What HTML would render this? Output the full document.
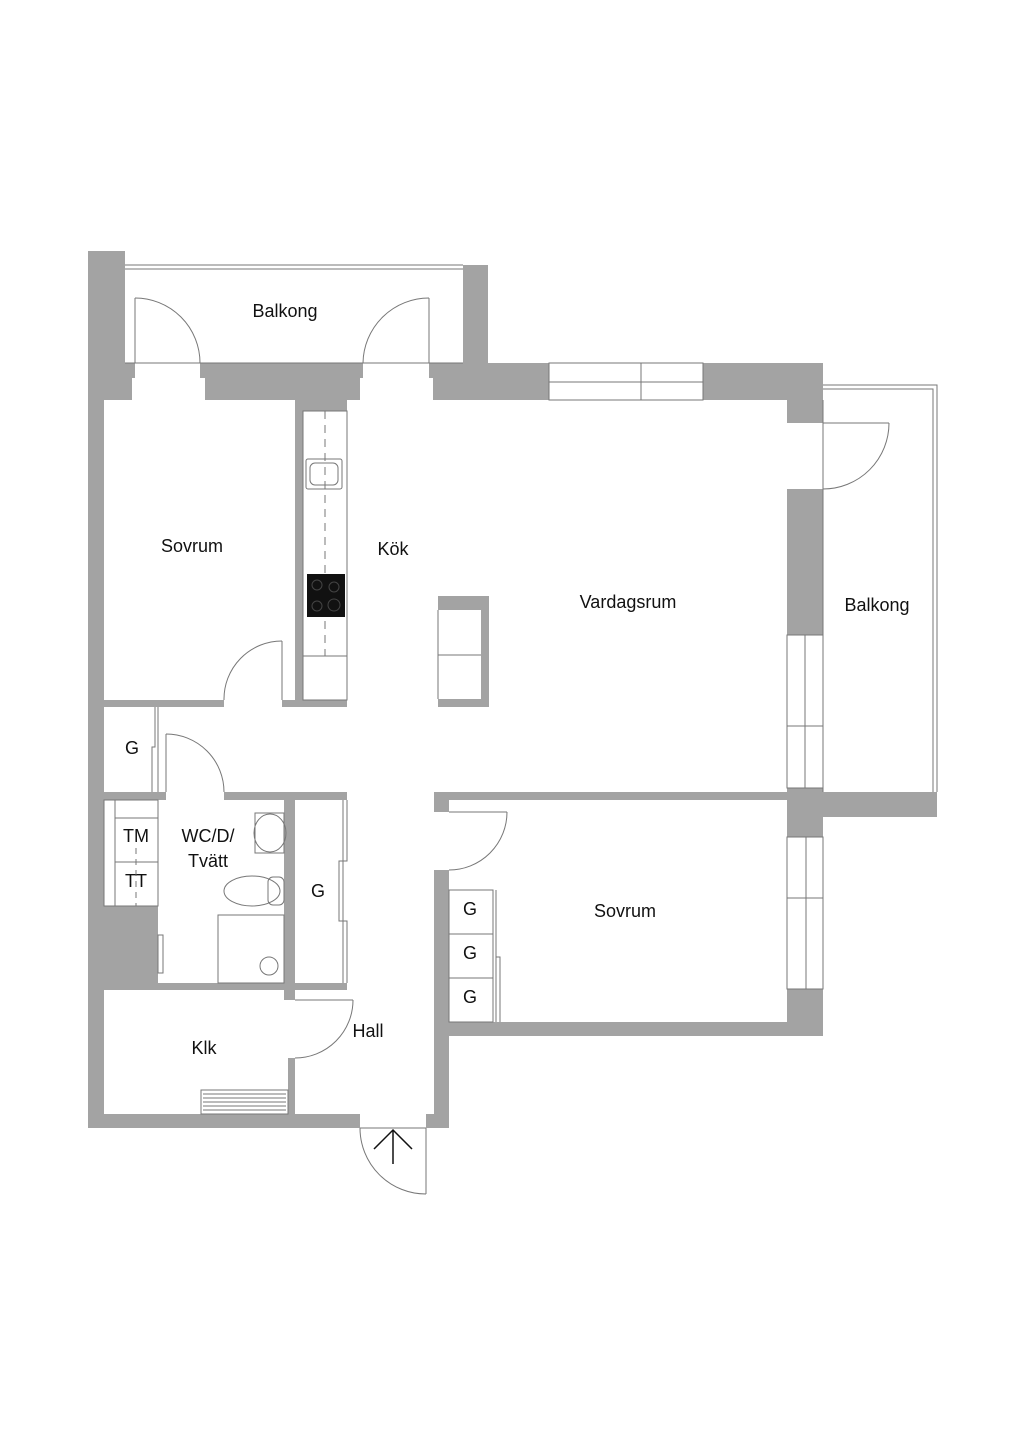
<!DOCTYPE html>
<html><head><meta charset="utf-8"><style>
html,body{margin:0;padding:0;background:#fff;}
svg{display:block;}
text{font-family:"Liberation Sans",sans-serif;font-size:18px;fill:#111;text-anchor:middle;}
</style></head><body>
<svg width="1024" height="1449" viewBox="0 0 1024 1449" xmlns="http://www.w3.org/2000/svg">
<rect width="1024" height="1449" fill="#fff"/>
<g fill="#a3a3a3">
<!-- left outer wall -->
<rect x="88" y="251" width="16" height="877"/>
<rect x="88" y="251" width="37" height="112"/>
<rect x="88" y="363" width="47" height="15"/>
<rect x="88" y="378" width="44" height="22"/>
<!-- balcony top wall segments -->
<rect x="200" y="363" width="163" height="15"/>
<rect x="205" y="378" width="155" height="22"/>
<rect x="463" y="265" width="25" height="98"/>
<rect x="429" y="363" width="120" height="15"/>
<rect x="433" y="378" width="116" height="22"/>
<rect x="703" y="363" width="120" height="37"/>
<rect x="787" y="400" width="36" height="23"/>
<rect x="787" y="489" width="36" height="146"/>
<!-- kitchen wall -->
<rect x="295" y="400" width="52" height="11"/>
<rect x="295" y="400" width="8" height="307"/>
<!-- sovrum bottom -->
<rect x="104" y="700" width="120" height="7"/>
<rect x="282" y="700" width="65" height="7"/>
<!-- island -->
<rect x="438" y="596" width="51" height="14"/>
<rect x="481" y="596" width="8" height="111"/>
<rect x="438" y="699" width="51" height="8"/>
<!-- G closet / WC walls -->
<rect x="104" y="792" width="62" height="8"/>
<rect x="224" y="792" width="123" height="8"/>
<rect x="88" y="906" width="70" height="82"/>
<rect x="284" y="792" width="11" height="208"/>
<rect x="104" y="983" width="243" height="7"/>
<rect x="288" y="1058" width="7" height="57"/>
<rect x="88" y="1114" width="272" height="14"/>
<rect x="426" y="1114" width="23" height="14"/>
<!-- right side -->
<rect x="434" y="792" width="353" height="8"/>
<rect x="434" y="792" width="15" height="20"/>
<rect x="434" y="870" width="15" height="258"/>
<rect x="787" y="788" width="36" height="49"/>
<rect x="823" y="792" width="114" height="25"/>
<rect x="449" y="1022" width="374" height="14"/>
<rect x="787" y="989" width="36" height="47"/>
</g>
<g fill="none" stroke="#777" stroke-width="1">
<!-- balcony railing top -->
<line x1="125" y1="265" x2="463" y2="265"/>
<line x1="125" y1="269" x2="463" y2="269"/>
<line x1="125" y1="363" x2="463" y2="363"/>
<!-- doors to balcony -->
<line x1="135" y1="298" x2="135" y2="363"/>
<path d="M135 298 A65 65 0 0 1 200 363"/>
<line x1="429" y1="298" x2="429" y2="363"/>
<path d="M429 298 A66 66 0 0 0 363 363"/>
<!-- windows top -->
<rect x="549" y="363" width="154" height="37"/>
<line x1="549" y1="382" x2="703" y2="382"/>
<line x1="641" y1="363" x2="641" y2="400"/>
<!-- right balcony -->
<polyline points="823,385 937,385 937,792"/>
<polyline points="823,389 933,389 933,792"/>
<line x1="823" y1="400" x2="823" y2="792"/>
<line x1="823" y1="423" x2="889" y2="423"/>
<path d="M889 423 A66 66 0 0 1 823 489"/>
<rect x="787" y="635" width="36" height="153"/>
<line x1="805" y1="635" x2="805" y2="788"/>
<line x1="787" y1="726" x2="823" y2="726"/>
<rect x="787" y="837" width="36" height="152"/>
<line x1="806" y1="837" x2="806" y2="989"/>
<line x1="787" y1="898" x2="823" y2="898"/>
<!-- kitchen counter -->
<rect x="303" y="411" width="44" height="289"/>
<line x1="303" y1="656" x2="347" y2="656"/>
<line x1="325" y1="411" x2="325" y2="656" stroke-dasharray="8 6"/>
<rect x="306" y="459" width="36" height="30" rx="2"/>
<rect x="310" y="463" width="28" height="22" rx="5"/>
<!-- island -->
<line x1="438" y1="610" x2="438" y2="699"/>
<line x1="438" y1="655" x2="481" y2="655"/>
<!-- sovrum door -->
<line x1="282" y1="641" x2="282" y2="700"/>
<path d="M282 641 A58 58 0 0 0 224 700"/>
<!-- G closet left -->
<polyline points="155,707 155,747 152,747 152,792"/>
<line x1="158" y1="707" x2="158" y2="792"/>
<!-- WC door -->
<line x1="166" y1="734" x2="166" y2="792"/>
<path d="M166 734 A58 58 0 0 1 224 792"/>
<!-- TM TT -->
<rect x="104" y="800" width="54" height="106"/>
<line x1="115" y1="800" x2="115" y2="906"/>
<line x1="115" y1="818" x2="158" y2="818"/>
<line x1="115" y1="862" x2="158" y2="862"/>
<line x1="136" y1="848" x2="136" y2="906" stroke-dasharray="6 5"/>
<!-- WC fixtures -->
<rect x="255" y="813" width="29" height="40"/>
<ellipse cx="270" cy="833" rx="16" ry="19"/>
<ellipse cx="252" cy="891" rx="28" ry="15"/>
<rect x="268" y="877" width="16" height="28" rx="5"/>
<rect x="218" y="915" width="66" height="68"/>
<circle cx="269" cy="966" r="9"/>
<rect x="158" y="935" width="5" height="38"/>
<!-- G closet middle -->
<polyline points="347,800 347,861 339,861 339,921 347,921 347,983"/>
<line x1="343" y1="800" x2="343" y2="983"/>
<!-- hall door -->
<line x1="295" y1="1000" x2="353" y2="1000"/>
<path d="M353 1000 A58 58 0 0 1 295 1058"/>
<!-- sovrum 2 door -->
<line x1="449" y1="812" x2="507" y2="812"/>
<path d="M507 812 A58 58 0 0 1 449 870"/>
<!-- G closets right -->
<rect x="449" y="890" width="44" height="132"/>
<line x1="449" y1="934" x2="493" y2="934"/>
<line x1="449" y1="978" x2="493" y2="978"/>
<line x1="496" y1="890" x2="496" y2="1022"/>
<polyline points="496,957 500,957 500,1022"/>
<!-- entrance -->
<line x1="360" y1="1128" x2="426" y2="1128"/>
<line x1="426" y1="1128" x2="426" y2="1194"/>
<path d="M360 1128 A66 66 0 0 0 426 1194"/>
</g>
<!-- radiator -->
<rect x="201" y="1090" width="87" height="24" fill="#fff" stroke="#777"/>
<g stroke="#777" stroke-width="1">
<line x1="203" y1="1094" x2="286" y2="1094"/><line x1="203" y1="1098" x2="286" y2="1098"/>
<line x1="203" y1="1102" x2="286" y2="1102"/><line x1="203" y1="1106" x2="286" y2="1106"/>
<line x1="203" y1="1110" x2="286" y2="1110"/>
</g>
<!-- stove -->
<rect x="307" y="574" width="38" height="43" fill="#111"/>
<g fill="none" stroke="#444"><circle cx="317" cy="585" r="5"/><circle cx="334" cy="587" r="5"/><circle cx="317" cy="606" r="5"/><circle cx="334" cy="605" r="6"/></g>
<!-- arrow -->
<g stroke="#111" stroke-width="1.5" fill="none"><line x1="393" y1="1164" x2="393" y2="1130"/><polyline points="374,1149 393,1130 412,1149"/></g>
<!-- labels -->
<text x="285" y="317">Balkong</text>
<text x="192" y="552">Sovrum</text>
<text x="393" y="555">Kök</text>
<text x="628" y="608">Vardagsrum</text>
<text x="877" y="611">Balkong</text>
<text x="132" y="754">G</text>
<text x="208" y="842">WC/D/</text>
<text x="208" y="867">Tvätt</text>
<text x="136" y="842">TM</text>
<text x="136" y="887">TT</text>
<text x="318" y="897">G</text>
<text x="470" y="915">G</text>
<text x="470" y="959">G</text>
<text x="470" y="1003">G</text>
<text x="625" y="917">Sovrum</text>
<text x="368" y="1037">Hall</text>
<text x="204" y="1054">Klk</text>
</svg>
</body></html>
